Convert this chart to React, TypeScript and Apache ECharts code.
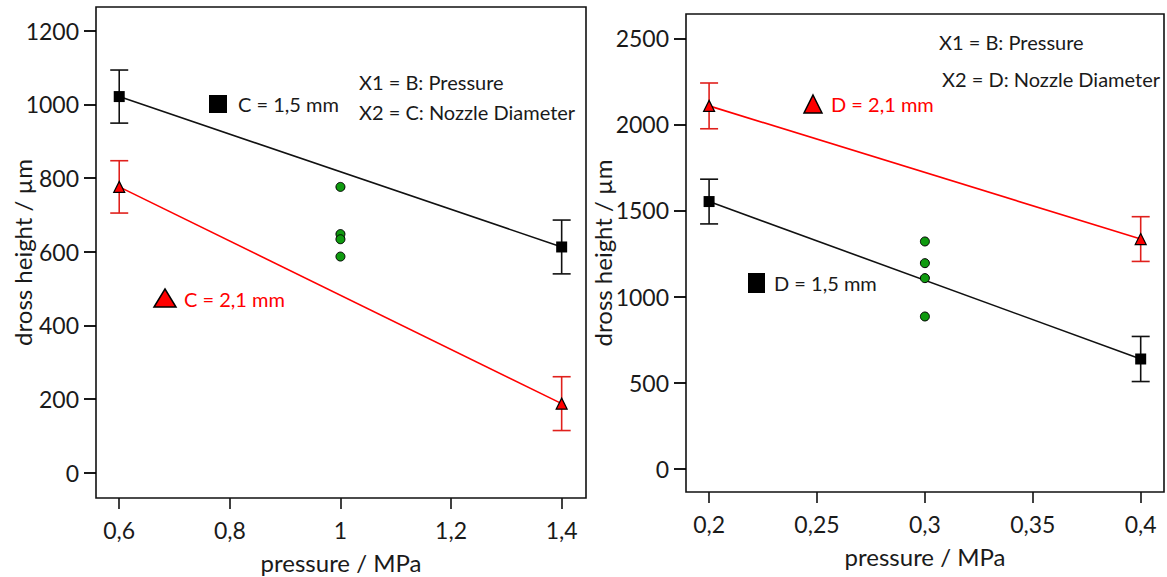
import React, { useEffect, useRef } from "react";
import * as echarts from "echarts";

// ---------- data ----------
const leftX = [0.6, 1.4];
const leftC15 = [1021, 613];
const leftC15Err = [72, 73];
const leftC21 = [776, 188];
const leftC21Err = [71, 73];
const leftCenterX = 1.0;
const leftCenter = [776, 648, 634, 587];
const leftXTicks = [0.6, 0.8, 1, 1.2, 1.4];
const leftYTicks = [0, 200, 400, 600, 800, 1000, 1200];

const rightX = [0.2, 0.4];
const rightD15 = [1552, 637];
const rightD15Err = [130, 131];
const rightD21 = [2108, 1334];
const rightD21Err = [133, 130];
const rightCenterX = 0.3;
const rightCenter = [1320, 1194, 1107, 884];
const rightXTicks = [0.2, 0.25, 0.3, 0.35, 0.4];
const rightYTicks = [0, 500, 1000, 1500, 2000, 2500];

const FONT = "Lato";
const TXT = "#1a1a1a";
const RED = "#ff0000";
const RED_ERR = "#e0201c";
const GREEN = "#0f9a0f";

const fmt = (v: number) => String(v).replace(".", ",");

function errData(xs: number[], ys: number[], errs: number[]) {
  return xs.map((x, i) => [x, ys[i] - errs[i], ys[i] + errs[i]]);
}
function pts(xs: number[], ys: number[]) {
  return xs.map((x, i) => [x, ys[i]]);
}

function errSeries(idx: number, data: number[][], color: string) {
  return {
    type: "custom",
    xAxisIndex: idx,
    yAxisIndex: idx,
    z: 2,
    silent: true,
    data,
    renderItem: (params: any, api: any) => {
      const x = api.value(0);
      const lo = api.value(1);
      const hi = api.value(2);
      const pTop = api.coord([x, hi]);
      const pBot = api.coord([x, lo]);
      const hw = 9;
      const style = { stroke: color, lineWidth: 1.6 };
      return {
        type: "group",
        children: [
          { type: "line", shape: { x1: pTop[0], y1: pTop[1], x2: pBot[0], y2: pBot[1] }, style },
          { type: "line", shape: { x1: pTop[0] - hw, y1: pTop[1], x2: pTop[0] + hw, y2: pTop[1] }, style },
          { type: "line", shape: { x1: pBot[0] - hw, y1: pBot[1], x2: pBot[0] + hw, y2: pBot[1] }, style },
        ],
      };
    },
  };
}

function axisX(idx: number, min: number, max: number, ticks: number[]) {
  return {
    type: "value",
    gridIndex: idx,
    min,
    max,
    name: "pressure / MPa",
    nameLocation: "middle",
    nameGap: 52,
    nameMoveOverlap: false,
    nameTextStyle: { fontFamily: FONT, fontSize: 24, color: TXT },
    axisLine: { show: false, onZero: false },
    splitLine: { show: false },
    axisTick: { show: true, inside: false, length: 11, customValues: ticks, lineStyle: { color: "#111", width: 1.6 } },
    axisLabel: {
      customValues: ticks,
      formatter: (v: number) => fmt(v),
      fontFamily: FONT,
      fontSize: 23,
      color: TXT,
      margin: 20,
    },
  };
}

function axisY(idx: number, min: number, max: number, ticks: number[], gap: number) {
  return {
    type: "value",
    gridIndex: idx,
    min,
    max,
    name: "dross height / µm",
    nameLocation: "middle",
    nameGap: gap,
    nameMoveOverlap: false,
    nameRotate: 90,
    nameTextStyle: { fontFamily: FONT, fontSize: 24, color: TXT },
    axisLine: { show: false, onZero: false },
    splitLine: { show: false },
    axisTick: { show: true, inside: false, length: 12, customValues: ticks, lineStyle: { color: "#000", width: 1.8 } },
    axisLabel: {
      customValues: ticks,
      formatter: (v: number) => fmt(v),
      fontFamily: FONT,
      fontSize: 23,
      color: TXT,
      margin: 17,
    },
  };
}

function lineSeries(idx: number, data: number[][], color: string) {
  return {
    type: "line",
    xAxisIndex: idx,
    yAxisIndex: idx,
    data,
    symbol: "none",
    z: 1,
    lineStyle: { color, width: 1.6 },
    silent: true,
  };
}

function markerSeries(idx: number, data: number[][], symbol: string, size: number, color: string, border: number) {
  return {
    type: "scatter",
    xAxisIndex: idx,
    yAxisIndex: idx,
    data,
    symbol,
    symbolSize: size,
    z: 3,
    itemStyle: { color, borderColor: "#000", borderWidth: border, opacity: 1 },
    silent: true,
  };
}

const textStyle = (color: string, size: number) => ({
  fill: color,
  fontFamily: FONT,
  fontSize: size,
  verticalAlign: "middle",
  align: "left",
});

export default function App() {
  const ref = useRef<HTMLDivElement>(null);
  useEffect(() => {
    document.body.style.margin = "0";
    const chart = echarts.init(ref.current!, null, { renderer: "svg" });
    const option: any = {
      animation: false,
      backgroundColor: "#fff",
      grid: [
        { left: 96, top: 7, width: 490, height: 491, show: true, borderColor: "#111", borderWidth: 1.6, backgroundColor: "transparent", containLabel: false, outerBoundsMode: "none" },
        { left: 686, top: 14, width: 478, height: 478, show: true, borderColor: "#111", borderWidth: 1.6, backgroundColor: "transparent", containLabel: false, outerBoundsMode: "none" },
      ],
      xAxis: [axisX(0, 0.558, 1.444, leftXTicks), axisX(1, 0.1893, 0.4108, rightXTicks)],
      yAxis: [axisY(0, -68, 1264, leftYTicks, 62), axisY(1, -136, 2642, rightYTicks, 72)],
      series: [
        lineSeries(0, pts(leftX, leftC15), "#111"),
        lineSeries(0, pts(leftX, leftC21), RED),
        errSeries(0, errData(leftX, leftC15, leftC15Err), "#111"),
        errSeries(0, errData(leftX, leftC21, leftC21Err), RED_ERR),
        markerSeries(0, pts(leftX, leftC15), "rect", 11, "#000", 0),
        markerSeries(0, pts(leftX, leftC21), "triangle", 11, RED, 1.2),
        markerSeries(0, leftCenter.map((v) => [leftCenterX, v]), "circle", 9, GREEN, 1),

        lineSeries(1, pts(rightX, rightD15), "#111"),
        lineSeries(1, pts(rightX, rightD21), RED),
        errSeries(1, errData(rightX, rightD15, rightD15Err), "#111"),
        errSeries(1, errData(rightX, rightD21, rightD21Err), RED_ERR),
        markerSeries(1, pts(rightX, rightD15), "rect", 11, "#000", 0),
        markerSeries(1, pts(rightX, rightD21), "triangle", 11, RED, 1.2),
        markerSeries(1, rightCenter.map((v) => [rightCenterX, v]), "circle", 9, GREEN, 1),
      ],
      graphic: [
        { type: "rect", shape: { x: 209, y: 95, width: 18, height: 18 }, style: { fill: "#000" } },
        { type: "text", x: 238, y: 104, style: { text: "C = 1,5 mm", ...textStyle(TXT, 20) } },
        { type: "polygon", shape: { points: [[165, 289], [176, 307], [154, 307]] }, style: { fill: RED, stroke: "#000", lineWidth: 1.5 } },
        { type: "text", x: 184, y: 299, style: { text: "C = 2,1 mm", ...textStyle(RED, 20) } },
        { type: "text", x: 359, y: 82, style: { text: "X1 = B: Pressure", ...textStyle(TXT, 20) } },
        { type: "text", x: 359, y: 112, style: { text: "X2 = C: Nozzle Diameter", ...textStyle(TXT, 20) } },

        { type: "polygon", shape: { points: [[813, 95], [822, 113], [804, 113]] }, style: { fill: RED, stroke: "#000", lineWidth: 1.5 } },
        { type: "text", x: 831, y: 104, style: { text: "D = 2,1 mm", ...textStyle(RED, 20) } },
        { type: "rect", shape: { x: 748, y: 273, width: 17, height: 20 }, style: { fill: "#000" } },
        { type: "text", x: 774, y: 283, style: { text: "D = 1,5 mm", ...textStyle(TXT, 20) } },
        { type: "text", x: 939, y: 42, style: { text: "X1 = B: Pressure", ...textStyle(TXT, 20) } },
        { type: "text", x: 942, y: 79, style: { text: "X2 = D: Nozzle Diameter", ...textStyle(TXT, 20) } },
      ],
    };
    chart.setOption(option);
    return () => chart.dispose();
  }, []);
  return <div ref={ref} style={{ width: 1167, height: 577 }} />;
}
